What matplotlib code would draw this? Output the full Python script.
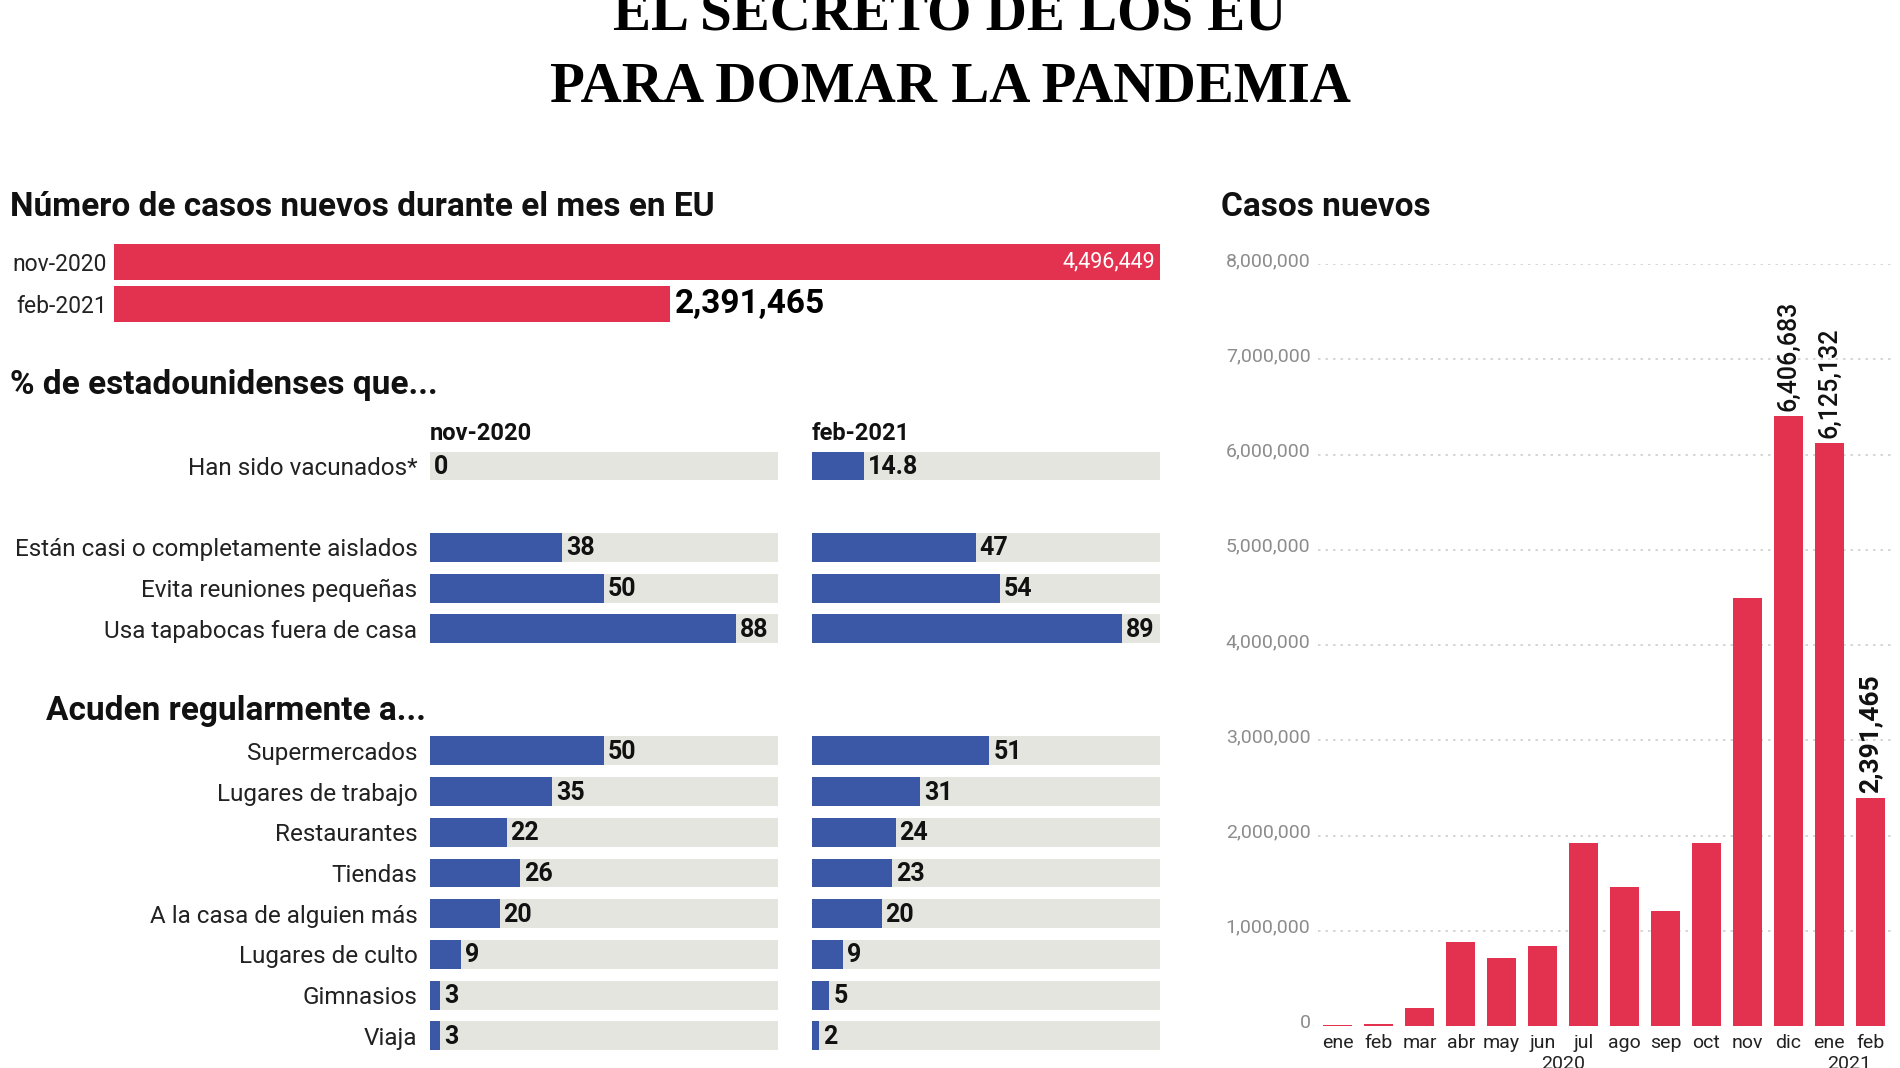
import matplotlib
matplotlib.use("Agg")
import matplotlib.pyplot as plt
from matplotlib.transforms import ScaledTranslation
import numpy as np

# ---------------- data ----------------
top_labels = ["nov-2020", "feb-2021"]
top_values = [4496449, 2391465]

survey_cols = ["nov-2020", "feb-2021"]
habits_labels = ["Han sido vacunados*", "Están casi o completamente aislados",
                 "Evita reuniones pequeñas", "Usa tapabocas fuera de casa"]
habits_nov = [0, 38, 50, 88]
habits_feb = [14.8, 47, 54, 89]

places_labels = ["Supermercados", "Lugares de trabajo", "Restaurantes", "Tiendas",
                 "A la casa de alguien más", "Lugares de culto", "Gimnasios", "Viaja"]
places_nov = [50, 35, 22, 26, 20, 9, 3, 3]
places_feb = [51, 31, 24, 23, 20, 9, 5, 2]

months = ["ene", "feb", "mar", "abr", "may", "jun", "jul", "ago", "sep", "oct",
          "nov", "dic", "ene", "feb"]
month_year = ["2020"] * 12 + ["2021"] * 2
monthly_cases = [7000, 18000, 190000, 885000, 715000, 840000, 1920000, 1456000,
                 1205000, 1920000, 4496449, 6406683, 6125132, 2391465]
y_ticks = [0, 1000000, 2000000, 3000000, 4000000, 5000000, 6000000, 7000000, 8000000]

# ---------------- style ----------------
RED = "#E3324F"
BLUE = "#3B58A6"
GREY = "#E5E5E0"
FONT = ["Roboto", "DejaVu Sans"]
plt.rcParams["font.family"] = FONT

W, H, DPI = 1900, 1068, 100
fig = plt.figure(figsize=(W / DPI, H / DPI), dpi=DPI)
fig.patch.set_facecolor("white")


def px_axes(x0, y0, x1, y1):
    ax = fig.add_axes([x0 / W, 1 - y1 / H, (x1 - x0) / W, (y1 - y0) / H])
    for s in ax.spines.values():
        s.set_visible(False)
    ax.set_facecolor("none")
    return ax


def ftext(x, y, s, **kw):
    return fig.text(x / W, 1 - y / H, s, **kw)


# ---------------- title ----------------
ftext(950, 30, "EL SECRETO DE LOS EU", ha="center", va="baseline",
      family=["Liberation Serif", "DejaVu Serif"], fontweight="bold", fontsize=41)
ftext(950, 101, "PARA DOMAR LA PANDEMIA", ha="center", va="baseline",
      family=["Liberation Serif", "DejaVu Serif"], fontweight="bold", fontsize=41)

# ---------------- section headers ----------------
hdr = dict(fontsize=24, fontweight="bold", va="center", ha="left", color="#111111")
ftext(10, 207, "Número de casos nuevos durante el mes en EU", **hdr)
ftext(10, 385, "% de estadounidenses que...", **hdr)
ftext(46, 711, "Acuden regularmente a...", **hdr)
ftext(1221, 207, "Casos nuevos", **hdr)

# ---------------- top bars ----------------
axt = px_axes(114, 241, 1160, 325)
ypos = np.arange(len(top_values))
axt.barh(ypos, top_values, height=0.88, color=RED)
axt.set_xlim(0, max(top_values))
axt.set_ylim(len(top_values) - 0.5, -0.5)
axt.set_xticks([])
axt.set_yticks(ypos)
axt.set_yticklabels(top_labels, fontsize=16.5, color="#222222")
axt.tick_params(axis="y", length=0, pad=5)
axt.annotate(f"{top_values[0]:,}", xy=(top_values[0], 0), xytext=(-5, 0),
             textcoords="offset pixels", ha="right", va="center",
             color="white", fontsize=15.5)
axt.annotate(f"{top_values[1]:,}", xy=(top_values[1], 1), xytext=(5, 0),
             textcoords="offset pixels", ha="left", va="center",
             color="black", fontsize=24, fontweight="bold")

# ---------------- survey panels ----------------
pos_habits = [0, 2, 3, 4]
pos_places = list(7 + np.arange(len(places_labels)))
all_pos = pos_habits + pos_places
all_labels = habits_labels + places_labels
cols_vals = [habits_nov + places_nov, habits_feb + places_feb]
col_x = [(430, 778), (812, 1160)]
pitch = 40.7
top_center = 466
for ci, ((x0, x1), vals) in enumerate(zip(col_x, cols_vals)):
    ax = px_axes(x0, top_center - pitch / 2, x1, top_center + pitch * 14.5)
    ax.barh(all_pos, [100] * len(all_pos), height=0.71, color=GREY)
    ax.barh(all_pos, vals, height=0.71, color=BLUE)
    ax.set_xlim(0, 100)
    ax.set_ylim(14.5, -0.5)
    ax.set_xticks([])
    if ci == 0:
        ax.set_yticks(all_pos)
        ax.set_yticklabels(all_labels, fontsize=17.5, color="#222222")
        ax.tick_params(axis="y", length=0, pad=9)
    else:
        ax.set_yticks([])
    for p, v in zip(all_pos, vals):
        ax.annotate(f"{v:g}", xy=(v, p), xytext=(4, -1), textcoords="offset pixels",
                    ha="left", va="center", fontsize=18, fontweight="bold",
                    color="#111111")
    ftext(x0, 434, survey_cols[ci], ha="left", va="center", fontsize=17,
          fontweight="bold", color="#111111")

# ---------------- monthly chart ----------------
axm = px_axes(1317.5, 264, 1890.5, 1026)
xm = np.arange(len(months))
axm.bar(xm, monthly_cases, width=0.71, color=RED, zorder=3)
axm.set_xlim(-0.5, len(months) - 0.5)
axm.set_ylim(0, max(y_ticks))
axm.set_yticks(y_ticks)
axm.set_yticklabels([f"{int(v):,}" for v in y_ticks], fontsize=14, color="#8c8c8c")
axm.tick_params(axis="y", length=0, pad=5)
off = ScaledTranslation(0, 5 / DPI, fig.dpi_scale_trans)
for lab in axm.get_yticklabels():
    lab.set_transform(lab.get_transform() + off)
axm.yaxis.grid(True, linestyle=(0, (1.5, 3)), color="#cfcfcf", linewidth=1.2, zorder=0)
axm.get_ygridlines()[0].set_visible(False)
axm.set_xticks(xm)
axm.set_xticklabels(months, fontsize=14, color="#222222")
axm.tick_params(axis="x", length=0, pad=6)

for yr in dict.fromkeys(month_year):
    xs = [x for x, y in zip(xm, month_year) if y == yr]
    axm.annotate(yr, xy=(np.mean(xs), 0), xytext=(0, -29), textcoords="offset pixels",
                 ha="center", va="top", fontsize=14, color="#222222",
                 annotation_clip=False)

for i in [11, 12]:
    axm.annotate(f"{monthly_cases[i]:,}", xy=(xm[i], monthly_cases[i]), xytext=(0, 5),
                 textcoords="offset pixels", ha="center", va="bottom", rotation=90,
                 fontsize=18, fontweight="medium", color="#111111")
axm.annotate(f"{monthly_cases[13]:,}", xy=(xm[13], monthly_cases[13]), xytext=(0, 5),
             textcoords="offset pixels", ha="center", va="bottom", rotation=90,
             fontsize=19, fontweight="bold", color="#111111")

fig.savefig("out.png", dpi=DPI, facecolor="white")
